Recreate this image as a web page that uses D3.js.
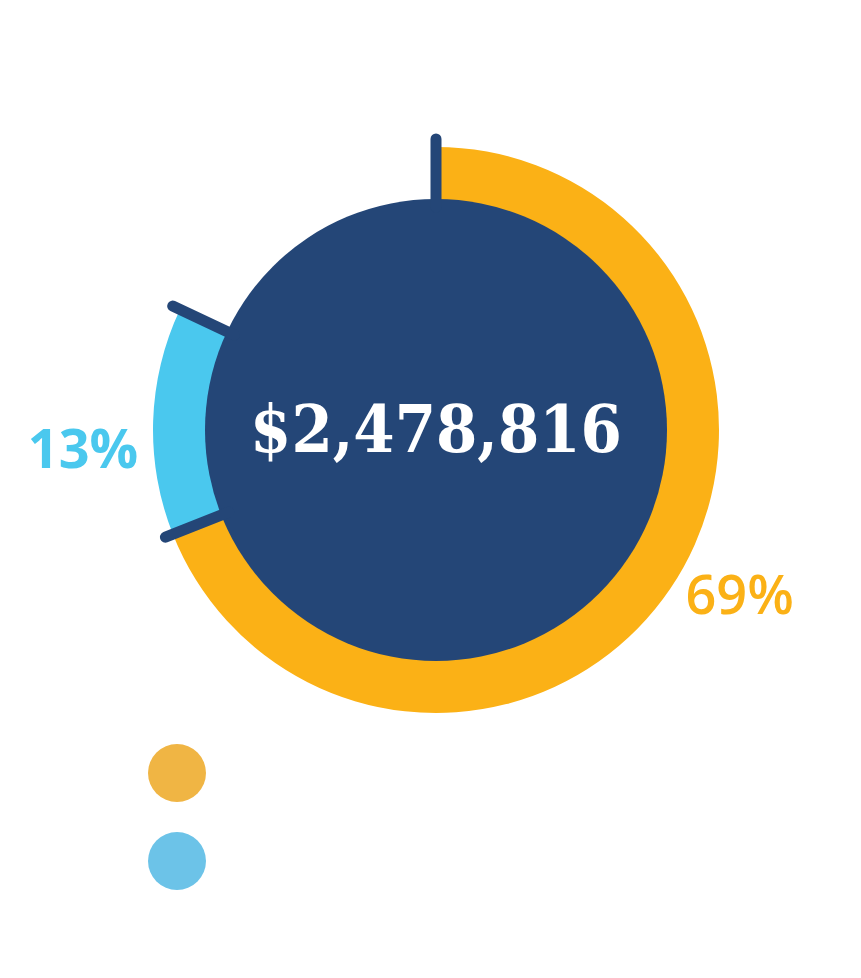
<!DOCTYPE html>
<html lang="en">
<head>
    <meta charset="UTF-8">
    <title>Donut total</title>
    <script src="https://d3js.org/d3.v7.min.js"></script>
    <style>
        body { margin: 0; background: #fff; }
        .pct { font-family: "Open Sans", sans-serif; font-size: 54px; }
        .total { font-family: "DejaVu Serif Condensed", "DejaVu Serif", serif; font-weight: bold; font-size: 66px; fill: #fff; }
    </style>
</head>
<body>
<div id="chart"></div>
<script>
// shares of the total (the rest of the ring is left empty)
const categories = ["Category A", "Category B", "Other"];
const shares = [69, 13, 18];
const shareLabels = ["69%", "13%", ""];
const totalLabel = "$2,478,816";
const colors = ["#FBB116", "#4AC8EE", "none"];
const legendColors = ["#F0B544", "#6CC3E8"];

const width = 861, height = 978;
const cx = 436, cy = 430;
const innerR = 231, outerR = 283;

const svg = d3.select("#chart").append("svg")
    .attr("width", width)
    .attr("height", height);

const g = svg.append("g").attr("transform", `translate(${cx},${cy})`);

const data = categories.map((c, i) => ({ name: c, value: shares[i], label: shareLabels[i], color: colors[i] }));

const pie = d3.pie().sort(null).value(d => d.value)
    .startAngle(0).endAngle(2 * Math.PI);
const arcs = pie(data);

const arc = d3.arc().innerRadius(innerR - 6).outerRadius(outerR);

// ring segments
g.selectAll(".seg")
    .data(arcs.filter(d => d.data.color !== "none"))
    .join("path")
    .attr("class", "seg")
    .attr("d", arc)
    .attr("fill", d => d.data.color);

// centre disc
g.append("circle").attr("r", innerR).attr("fill", "#244677");

// boundary ticks at each slice start
const tickIn = innerR - 8, tickOut = outerR + 8;
g.selectAll(".tick")
    .data(arcs)
    .join("line")
    .attr("class", "tick")
    .attr("x1", d => tickIn * Math.sin(d.startAngle))
    .attr("y1", d => -tickIn * Math.cos(d.startAngle))
    .attr("x2", d => tickOut * Math.sin(d.startAngle))
    .attr("y2", d => -tickOut * Math.cos(d.startAngle))
    .attr("stroke", "#244677")
    .attr("stroke-width", 11)
    .attr("stroke-linecap", "round");

// percentage labels outside the ring
const labelR = 298;
g.selectAll(".pct")
    .data(arcs.filter(d => d.data.label))
    .join("text")
    .attr("class", "pct")
    .attr("x", d => labelR * Math.sin((d.startAngle + d.endAngle) / 2))
    .attr("y", d => -labelR * Math.cos((d.startAngle + d.endAngle) / 2))
    .attr("dx", d => d.data.value < 20 ? 0 : 3)
    .attr("dy", d => d.data.value < 20 ? "0.88em" : "0.3em")
    .attr("text-anchor", d => Math.sin((d.startAngle + d.endAngle) / 2) < 0 ? "end" : "start")
    .attr("font-weight", d => d.data.value < 20 ? 700 : 600)
    .attr("fill", d => d.data.color)
    .text(d => d.data.label);

// total in the middle
g.append("text")
    .attr("class", "total")
    .attr("text-anchor", "middle")
    .attr("x", 0)
    .attr("y", 22)
    .text(totalLabel);

// legend dots
svg.selectAll(".legend")
    .data(legendColors)
    .join("circle")
    .attr("class", "legend")
    .attr("cx", 177)
    .attr("cy", (d, i) => 773 + i * 88)
    .attr("r", 29)
    .attr("fill", d => d);
</script>
</body>
</html>
